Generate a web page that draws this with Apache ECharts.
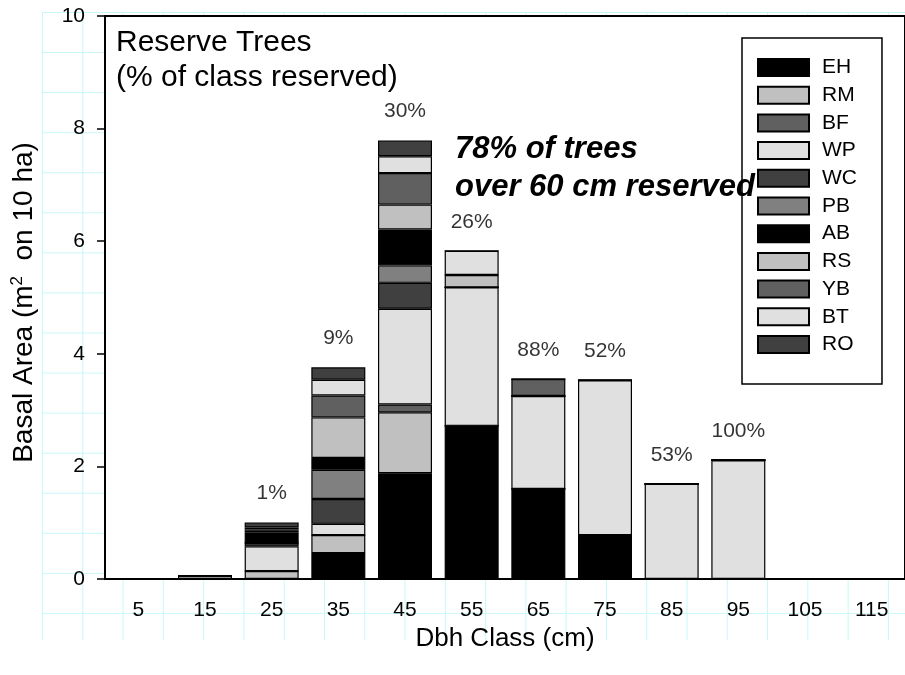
<!DOCTYPE html>
<html>
<head>
<meta charset="utf-8">
<title>Reserve Trees</title>
<script src="https://cdn.jsdelivr.net/npm/echarts@6/dist/echarts.min.js"></script>
<style>
html, body { margin: 0; padding: 0; background: #fff; }
#wrap { position: relative; width: 905px; height: 675px; overflow: hidden; }
#paper {
  position: absolute; left: 42px; top: 12px; width: 863px; height: 628px;
  background-image: linear-gradient(to right, #c8f7f7 1px, transparent 1px),
                    linear-gradient(to bottom, #c8f7f7 1px, transparent 1px);
  background-size: 40.29px 40.07px;
}
#main { position: absolute; left: 0; top: 0; width: 905px; height: 675px; }
</style>
</head>
<body>
<div id="wrap">
  <div id="paper"></div>
  <div id="main"></div>
</div>
<script>
// dbh classes (cm)
var categories = ['5', '15', '25', '35', '45', '55', '65', '75', '85', '95', '105', '115'];

// basal area reserved per species (m2 on 10 ha)
var EH = [0, 0,    0,     0.46, 1.88, 2.72, 1.60, 0.78, 0,    0,    0, 0];
var RM = [0, 0.06, 0.14,  0.32, 1.08, 0,    0,    0,    0,    0,    0, 0];
var BF = [0, 0,    0,     0,    0.14, 0,    0,    0,    0,    0,    0, 0];
var WP = [0, 0,    0.44,  0.20, 1.70, 2.46, 1.65, 2.75, 1.69, 2.11, 0, 0];
var WC = [0, 0,    0.06,  0.44, 0.46, 0,    0,    0,    0,    0,    0, 0];
var PB = [0, 0,    0,     0.52, 0.31, 0,    0,    0,    0,    0,    0, 0];
var AB = [0, 0,    0.18,  0.21, 0.64, 0,    0,    0,    0,    0,    0, 0];
var RS = [0, 0,    0.035, 0.72, 0.44, 0.22, 0,    0,    0,    0,    0, 0];
var YB = [0, 0,    0.025, 0.39, 0.56, 0,    0.30, 0,    0,    0,    0, 0];
var BT = [0, 0,    0.035, 0.28, 0.30, 0.43, 0,    0,    0,    0,    0, 0];
var RO = [0, 0,    0.09,  0.22, 0.28, 0,    0,    0,    0,    0,    0, 0];

// % of class reserved
var pctLabels = ['', '', '1%', '9%', '30%', '26%', '88%', '52%', '53%', '100%', '', ''];

var species = ['EH', 'RM', 'BF', 'WP', 'WC', 'PB', 'AB', 'RS', 'YB', 'BT', 'RO'];
var speciesData = [EH, RM, BF, WP, WC, PB, AB, RS, YB, BT, RO];
var speciesColors = ['#000000', '#c0c0c0', '#606060', '#e0e0e0', '#404040', '#808080',
                     '#000000', '#c0c0c0', '#606060', '#e0e0e0', '#404040'];

var FONT = '"Liberation Sans", Arial, Helvetica, sans-serif';

var totals = [];
for (var i = 0; i < categories.length; i++) {
  var s = 0;
  for (var j = 0; j < speciesData.length; j++) s += speciesData[j][i];
  totals[i] = s;
}

var series = [];
for (var k = 0; k < species.length; k++) {
  series.push({
    name: species[k],
    type: 'bar',
    stack: 'total',
    barWidth: 54,
    data: speciesData[k],
    itemStyle: { color: speciesColors[k], borderColor: '#000', borderWidth: 1.2 },
    emphasis: { disabled: true }
  });
}
// percent labels above each column
series.push({
  name: 'pct',
  type: 'scatter',
  data: totals,
  symbolSize: 1,
  itemStyle: { color: 'transparent' },
  silent: true,
  z: 5,
  label: {
    show: true,
    position: 'top',
    distance: 18,
    fontFamily: FONT,
    fontSize: 21,
    color: '#000',
    formatter: function (p) { return pctLabels[p.dataIndex]; }
  }
});

var myChart = echarts.init(document.getElementById('main'));
var option = {
  animation: false,
  title: [{
    text: 'Reserve Trees\n(% of class reserved)',
    left: 116, top: 25, padding: 0,
    textStyle: { fontFamily: FONT, fontSize: 30, fontWeight: 'normal', lineHeight: 35, color: '#000' }
  }, {
    text: '78% of trees\nover 60 cm reserved',
    left: 455, top: 130, padding: 0,
    textStyle: { fontFamily: FONT, fontSize: 31, fontWeight: 'bold', fontStyle: 'italic', lineHeight: 38, color: '#000' }
  }],
  legend: {
    data: species,
    orient: 'vertical',
    left: 742, top: 38,
    padding: [19, 25, 29, 15],
    itemWidth: 51, itemHeight: 17, itemGap: 6.7,
    icon: 'rect',
    borderColor: '#000', borderWidth: 1.5,
    backgroundColor: '#fff',
    selectedMode: false,
    textStyle: { fontFamily: FONT, fontSize: 21, color: '#000', padding: [0, 0, 0, 8] }
  },
  grid: {
    left: 105, right: -7, top: 16, bottom: 96,
    show: true, backgroundColor: '#fff', borderColor: '#000', borderWidth: 2
  },
  xAxis: {
    type: 'category',
    data: categories,
    name: 'Dbh Class (cm)',
    nameLocation: 'middle',
    nameGap: 35,
    nameTextStyle: { fontFamily: FONT, fontSize: 26, color: '#000' },
    axisLine: { lineStyle: { color: '#000', width: 2 } },
    axisTick: { alignWithLabel: true, length: 9, lineStyle: { color: '#000', width: 1.5 } },
    axisLabel: { fontFamily: FONT, fontSize: 21, color: '#000', margin: 21 },
    splitLine: { show: false }
  },
  yAxis: {
    type: 'value',
    min: 0, max: 10, interval: 2,
    name: '{a|Basal Area (m}{s|2}{a|  on 10 ha)}',
    nameLocation: 'middle',
    nameGap: 66,
    nameTextStyle: {
      fontFamily: FONT, fontSize: 28, color: '#000',
      padding: [0, 10, 0, 0],
      rich: {
        a: { fontFamily: FONT, fontSize: 28, color: '#000', lineHeight: 30 },
        s: { fontFamily: FONT, fontSize: 17, color: '#000', lineHeight: 30, verticalAlign: 'top' }
      }
    },
    axisLine: { show: true, lineStyle: { color: '#000', width: 2 } },
    axisTick: { show: true, length: 8, lineStyle: { color: '#000', width: 1.5 } },
    axisLabel: { fontFamily: FONT, fontSize: 21, color: '#000', margin: 20 },
    splitLine: { show: false }
  },
  series: series
};
myChart.setOption(option);
</script>
</body>
</html>
